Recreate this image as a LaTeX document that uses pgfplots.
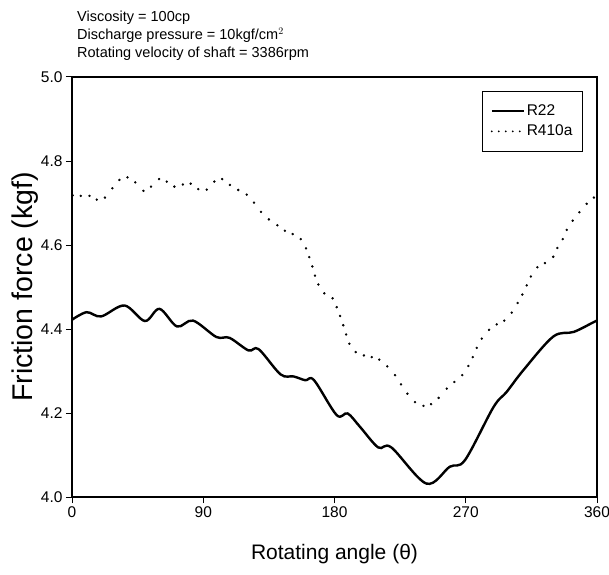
\documentclass[border=0pt]{standalone}
\usepackage{pgfplots}
\pgfplotsset{compat=1.18}
\usepackage{fontspec}
\setmainfont{Liberation Sans}
\begin{document}
\begin{tikzpicture}[x=1pt,y=1pt]
\path[use as bounding box] (0,0) rectangle (609,574);
\begin{axis}[
  at={(72pt,77pt)}, anchor=south west,
  width=525pt, height=420pt, scale only axis,
  xmin=0, xmax=360, ymin=4, ymax=5,
  xtick={0,90,180,270,360},
  ytick={4,4.2,4.4,4.6,4.8,5},
  yticklabel style={/pgf/number format/.cd,fixed,fixed zerofill,precision=1},
  /pgf/number format/assume math mode=true,
  tick align=outside, major tick length=6pt,
  xtick pos=bottom, ytick pos=left,
  axis line style={line width=2.8pt},
  tick style={line width=1pt, black},
  ticklabel style={font=\fontsize{15.5}{18}\selectfont},
  xlabel={Rotating angle (θ)},
  ylabel={Friction force (kgf)},
  xlabel style={font=\fontsize{21}{24}\selectfont, at={(axis description cs:0.5,-0.135)}, anchor=center},
  ylabel style={font=\fontsize{28.5}{32}\selectfont, at={(axis description cs:-0.09,0.5)}, anchor=center},
  legend style={at={(axis description cs:0.973,0.967)}, anchor=north east,
    draw=black, line width=0.8pt, font=\fontsize{15.5}{17}\selectfont,
    inner xsep=8pt, inner ysep=10pt,
    nodes={inner sep=2pt, text height=12pt, text depth=4pt},
    /tikz/every even column/.append style={column sep=4pt}},
  legend cell align=left,
]
\addplot[black, line width=2.4pt, smooth, tension=0.55,
  legend image code/.code={\draw[black, line width=2pt] (0pt,0pt) -- (32pt,0pt);}]
coordinates {
(0,4.422) (10,4.440) (20,4.430) (36,4.456) (50,4.419) (60,4.448) (72,4.406)
(83,4.420) (99,4.381) (108,4.379) (121,4.349) (128,4.352) (143,4.292)
(152,4.287) (160,4.278) (166,4.278) (181.5,4.195) (189,4.199) (197.5,4.167)
(210,4.118) (219,4.118) (243,4.032) (259,4.072) (269.5,4.088) (289,4.214)
(298,4.250) (309.5,4.302) (330,4.382) (344,4.393) (357.5,4.416) (360,4.420)
};
\addlegendentry{R22}
\addplot[black, only marks, mark=*, mark size=1.0pt,
  legend image code/.code={\draw[black, line width=2pt, line cap=round, dash pattern=on 0pt off 7pt] (0pt,0pt) -- (32pt,0pt);}]
coordinates {
(0.5,4.718) (6,4.717) (12,4.717) (17,4.708) (22.6,4.713) (27.7,4.735) (32.5,4.755)
(38,4.761) (43.4,4.749) (49,4.729) (54.2,4.739) (59.7,4.757) (65,4.751)
(70.2,4.739) (76,4.744) (81.4,4.746) (86.6,4.733) (92.4,4.732) (97.6,4.751)
(103,4.757) (108.3,4.743) (114,4.731) (119.8,4.720) (124.8,4.701) (129.6,4.679)
(135,4.661) (140.8,4.647) (146,4.634) (151.3,4.626) (156.8,4.614) (160.5,4.592)
(162.7,4.571) (164.8,4.549) (166.6,4.527) (168.9,4.506) (173,4.485) (178.7,4.473)
(181.5,4.452) (183.8,4.431) (186,4.409) (188,4.387) (190.2,4.365) (194.5,4.345)
(200.2,4.337) (205.5,4.333) (210.7,4.327) (216.2,4.311) (221.5,4.290) (225.6,4.268)
(230,4.246) (235.2,4.226) (241,4.217) (246.2,4.221) (251.4,4.236) (257,4.258)
(262.2,4.274) (267.6,4.290) (271.8,4.312) (274.8,4.333) (277.5,4.355) (281,4.377)
(286,4.398) (291.2,4.411) (296.4,4.420) (301.5,4.439) (305.6,4.462) (308.8,4.482)
(311.8,4.504) (314.7,4.525) (319.1,4.547) (324.3,4.557) (330,4.572) (332.8,4.593)
(336.5,4.614) (339.2,4.636) (343.3,4.658) (347.9,4.678) (352.9,4.698) (357.9,4.713)
};
\addlegendentry{R410a}
\end{axis}
\node[anchor=base west, font=\fontsize{14.5}{16}\selectfont, inner sep=0pt] at (77,552) {Viscosity = 100cp};
\node[anchor=base west, font=\fontsize{14.5}{16}\selectfont, inner sep=0pt] at (77,534) {Discharge pressure = 10kgf/cm$^{2}$};
\node[anchor=base west, font=\fontsize{14.5}{16}\selectfont, inner sep=0pt] at (77,516) {Rotating velocity of shaft = 3386rpm};
\end{tikzpicture}
\end{document}
